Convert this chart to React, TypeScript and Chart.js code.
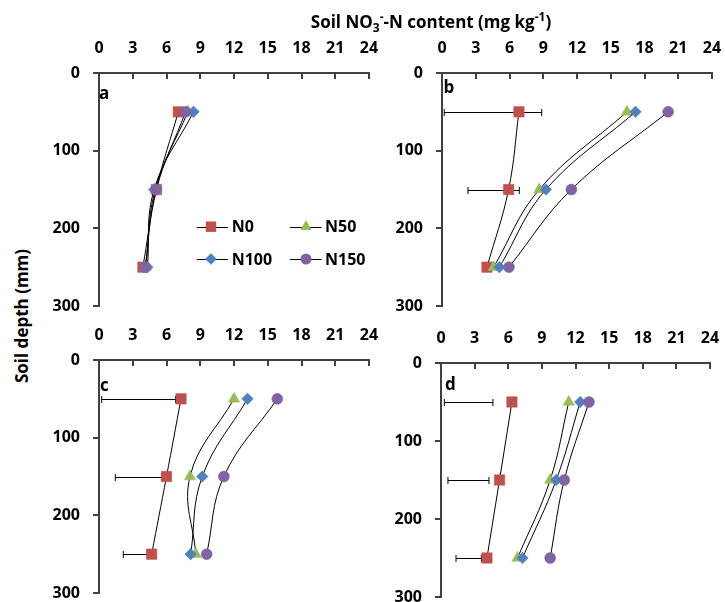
import React, { useEffect, useRef } from 'react';
import { Chart, registerables } from 'chart.js';

Chart.register(...registerables);

// ---- data ----
const depths = [50, 150, 250];
const seriesNames = ['N0', 'N50', 'N100', 'N150'];
const seriesColors = ['#C0504D', '#9BBB59', '#4F81BD', '#8064A2'];
const seriesShapes = ['rect', 'triangle', 'rectRot', 'circle'];
const seriesRadii = [7.4, 6.6, 5.8, 5.5];
const xTickValues = [0, 3, 6, 9, 12, 15, 18, 21, 24];
const yTickValues = [0, 100, 200, 300];

// panel a
const aN0 = [7.05, 5.1, 3.9];
const aN50 = [7.9, 5.0, 4.15];
const aN100 = [8.4, 4.9, 4.3];
const aN150 = [7.7, 5.1, 4.1];
const aN0Low: (number | null)[] = [null, null, null];
const aN0High: (number | null)[] = [null, null, null];

// panel b
const bN0 = [6.84, 5.92, 4.0];
const bN50 = [16.44, 8.65, 4.59];
const bN100 = [17.2, 9.24, 5.1];
const bN150 = [20.1, 11.5, 5.95];
const bN0Low: (number | null)[] = [0.2, 2.31, null];
const bN0High: (number | null)[] = [8.86, 6.87, null];

// panel c
const cN0 = [7.29, 6.0, 4.68];
const cN50 = [12.0, 8.09, 8.6];
const cN100 = [13.2, 9.18, 8.15];
const cN150 = [15.85, 11.1, 9.57];
const cN0Low: (number | null)[] = [0.24, 1.45, 2.16];
const cN0High: (number | null)[] = [6.8, 5.6, 4.3];

// panel d
const dN0 = [6.33, 5.22, 4.1];
const dN50 = [11.4, 9.74, 6.83];
const dN100 = [12.42, 10.28, 7.27];
const dN150 = [13.2, 11.0, 9.74];
const dN0Low: (number | null)[] = [0.3, 0.62, 1.34];
const dN0High: (number | null)[] = [4.63, 4.28, 3.6];

const FONT = "'Open Sans', 'DejaVu Sans', sans-serif";
const AXIS_COLOR = '#404040';

function drawMarker(ctx: CanvasRenderingContext2D, shape: string, x: number, y: number, r: number) {
  ctx.beginPath();
  if (shape === 'rect') {
    const s = Math.SQRT1_2 * r;
    ctx.rect(x - s, y - s, 2 * s, 2 * s);
  } else if (shape === 'triangle') {
    let rad = 0;
    ctx.moveTo(x + Math.sin(rad) * r, y - Math.cos(rad) * r);
    rad += (2 * Math.PI) / 3;
    ctx.lineTo(x + Math.sin(rad) * r, y - Math.cos(rad) * r);
    rad += (2 * Math.PI) / 3;
    ctx.lineTo(x + Math.sin(rad) * r, y - Math.cos(rad) * r);
    ctx.closePath();
  } else if (shape === 'rectRot') {
    ctx.moveTo(x - r, y);
    ctx.lineTo(x, y - r);
    ctx.lineTo(x + r, y);
    ctx.lineTo(x, y + r);
    ctx.closePath();
  } else {
    ctx.arc(x, y, r, 0, Math.PI * 2);
  }
  ctx.fill();
}

type Area = { l: number; t: number; r: number; b: number };

type PanelProps = {
  area: Area;
  values: number[][];
  errLow: (number | null)[];
  errHigh: (number | null)[];
  letter: string;
  letterDx: number;
  letterDy: number;
  legend?: boolean;
};

const PAD_L = 59;
const PAD_T = 43;
const PAD_R = 14;
const PAD_B = 16;

function zeroPadding(s: any) {
  s.paddingLeft = 0;
  s.paddingRight = 0;
  s.paddingTop = 0;
  s.paddingBottom = 0;
}

function Panel({ area, values, errLow, errHigh, letter, letterDx, letterDy, legend }: PanelProps) {
  const ref = useRef<HTMLCanvasElement>(null);
  const w = area.r - area.l + PAD_L + PAD_R;
  const h = area.b - area.t + PAD_T + PAD_B;

  useEffect(() => {
    if (!ref.current) return;
    const datasets = seriesNames.map((name, i) => ({
      label: name,
      data: depths.map((d, j) => ({ x: values[i][j], y: d })),
      showLine: true,
      borderColor: '#000',
      borderWidth: 1,
      tension: 0.4,
      pointStyle: seriesShapes[i],
      pointRadius: seriesRadii[i],
      pointBackgroundColor: seriesColors[i],
      pointBorderColor: seriesColors[i],
      pointBorderWidth: 0.5,
      order: 3 - i,
      clip: false as any,
    }));

    const panelPlugin = {
      id: 'panelDecor',
      beforeDatasetsDraw(chart: any) {
        const ctx = chart.ctx as CanvasRenderingContext2D;
        const xs = chart.scales.x;
        const ys = chart.scales.y;
        const ca = chart.chartArea;
        ctx.save();
        // axes lines and tick marks
        ctx.strokeStyle = AXIS_COLOR;
        ctx.lineWidth = 2;
        ctx.beginPath();
        ctx.moveTo(ca.left, ca.top);
        ctx.lineTo(ca.right + 1, ca.top);
        ctx.moveTo(ca.left, ca.top - 1);
        ctx.lineTo(ca.left, ca.bottom + 1);
        xTickValues.forEach((v) => {
          const px = Math.round(xs.getPixelForValue(v));
          ctx.moveTo(px, ca.top);
          ctx.lineTo(px, ca.top + 6);
        });
        yTickValues.forEach((v) => {
          const py = Math.round(ys.getPixelForValue(v));
          ctx.moveTo(ca.left - 6, py);
          ctx.lineTo(ca.left, py);
        });
        ctx.stroke();

        // error bars
        ctx.strokeStyle = '#000';
        ctx.lineWidth = 1;
        depths.forEach((d, j) => {
          const lo = errLow[j];
          const hi = errHigh[j];
          if (lo == null || hi == null) return;
          const y = Math.round(ys.getPixelForValue(d)) + 0.5;
          const x1 = xs.getPixelForValue(lo);
          const x2 = xs.getPixelForValue(hi);
          ctx.beginPath();
          ctx.moveTo(x1, y);
          ctx.lineTo(x2, y);
          ctx.moveTo(x1, y - 3.5);
          ctx.lineTo(x1, y + 3.5);
          ctx.moveTo(x2, y - 3.5);
          ctx.lineTo(x2, y + 3.5);
          ctx.stroke();
        });
        ctx.restore();
      },
      afterDraw(chart: any) {
        const ctx = chart.ctx as CanvasRenderingContext2D;
        const ca = chart.chartArea;
        ctx.save();
        // panel letter
        ctx.fillStyle = '#000';
        ctx.font = `bold 17px ${FONT}`;
        ctx.textBaseline = 'alphabetic';
        ctx.textAlign = 'left';
        ctx.fillText(letter, ca.left + letterDx, ca.top + letterDy);
        if (legend) {
          const rows = [153.7, 186];
          const cols = [
            { l: 97.7, r: 129, m: 112, t: 132.7 },
            { l: 191, r: 222.7, m: 207, t: 226 },
          ];
          ctx.font = `bold 16px ${FONT}`;
          ctx.textBaseline = 'middle';
          seriesNames.forEach((name, i) => {
            const row = rows[Math.floor(i / 2)];
            const col = cols[i % 2];
            const y = ca.top + row;
            ctx.strokeStyle = '#000';
            ctx.lineWidth = 1;
            ctx.beginPath();
            ctx.moveTo(ca.left + col.l, Math.round(y) + 0.5);
            ctx.lineTo(ca.left + col.r, Math.round(y) + 0.5);
            ctx.stroke();
            ctx.fillStyle = seriesColors[i];
            drawMarker(ctx, seriesShapes[i], ca.left + col.m, y, seriesRadii[i]);
            ctx.fillStyle = '#000';
            ctx.fillText(name, ca.left + col.t, y + 1);
          });
        }
        ctx.restore();
      },
    };

    const tickFont = { family: FONT, weight: 'bold' as const, size: 16 };

    const chart = new Chart(ref.current, {
      type: 'scatter',
      data: { datasets: datasets as any },
      options: {
        animation: false,
        responsive: false,
        events: [],
        layout: { padding: { left: 0, top: 0, right: PAD_R, bottom: PAD_B } },
        plugins: { legend: { display: false }, tooltip: { enabled: false } },
        scales: {
          x: {
            type: 'linear',
            position: 'top',
            min: 0,
            max: 24,
            afterFit: (s: any) => {
              s.height = PAD_T;
              zeroPadding(s);
            },
            afterBuildTicks: (s: any) => {
              s.ticks = xTickValues.map((v) => ({ value: v }));
            },
            grid: { display: false, drawTicks: false },
            border: { display: false },
            ticks: { padding: 15, font: tickFont, color: '#000', maxRotation: 0, autoSkip: false },
          },
          y: {
            type: 'linear',
            reverse: true,
            min: 0,
            max: 300,
            afterFit: (s: any) => {
              s.width = PAD_L;
              zeroPadding(s);
            },
            afterBuildTicks: (s: any) => {
              s.ticks = yTickValues.map((v) => ({ value: v }));
            },
            grid: { display: false, drawTicks: false },
            border: { display: false },
            ticks: { padding: 19, font: tickFont, color: '#000', autoSkip: false },
          },
        },
      },
      plugins: [panelPlugin],
    });
    return () => chart.destroy();
  }, []);

  return (
    <canvas
      ref={ref}
      width={w}
      height={h}
      style={{ position: 'absolute', left: area.l - PAD_L, top: area.t - PAD_T, width: w, height: h }}
    />
  );
}

export default function App() {
  return (
    <div
      style={{
        position: 'absolute',
        left: 0,
        top: 0,
        width: 725,
        height: 602,
        background: '#fff',
        overflow: 'hidden',
        fontFamily: FONT,
      }}
    >
      <Panel
        area={{ l: 99, t: 73, r: 369, b: 306 }}
        values={[aN0, aN50, aN100, aN150]}
        errLow={aN0Low}
        errHigh={aN0High}
        letter="a"
        letterDx={0}
        letterDy={26}
        legend
      />
      <Panel
        area={{ l: 442, t: 73, r: 712, b: 306 }}
        values={[bN0, bN50, bN100, bN150]}
        errLow={bN0Low}
        errHigh={bN0High}
        letter="b"
        letterDx={1.5}
        letterDy={20}
      />
      <Panel
        area={{ l: 99, t: 360, r: 369, b: 593 }}
        values={[cN0, cN50, cN100, cN150]}
        errLow={cN0Low}
        errHigh={cN0High}
        letter="c"
        letterDx={1}
        letterDy={31}
      />
      <Panel
        area={{ l: 441, t: 363, r: 710, b: 597 }}
        values={[dN0, dN50, dN100, dN150]}
        errLow={dN0Low}
        errHigh={dN0High}
        letter="d"
        letterDx={4}
        letterDy={27}
      />
      <div
        style={{
          position: 'absolute',
          left: 431,
          top: 22,
          transform: 'translate(-50%, -50%)',
          whiteSpace: 'nowrap',
          fontWeight: 'bold',
          fontSize: 17,
          lineHeight: '20px',
          color: '#000',
        }}
      >
        Soil NO<sub style={{ fontSize: 12, lineHeight: 0 }}>3</sub>
        <sup style={{ fontSize: 12, lineHeight: 0 }}>-</sup>-N content (mg kg
        <sup style={{ fontSize: 12, lineHeight: 0 }}>-1</sup>)
      </div>
      <div
        style={{
          position: 'absolute',
          left: 22,
          top: 316,
          transform: 'translate(-50%, -50%) rotate(-90deg)',
          whiteSpace: 'nowrap',
          fontWeight: 'bold',
          fontSize: 17,
          lineHeight: '20px',
          color: '#000',
        }}
      >
        Soil depth (mm)
      </div>
    </div>
  );
}
